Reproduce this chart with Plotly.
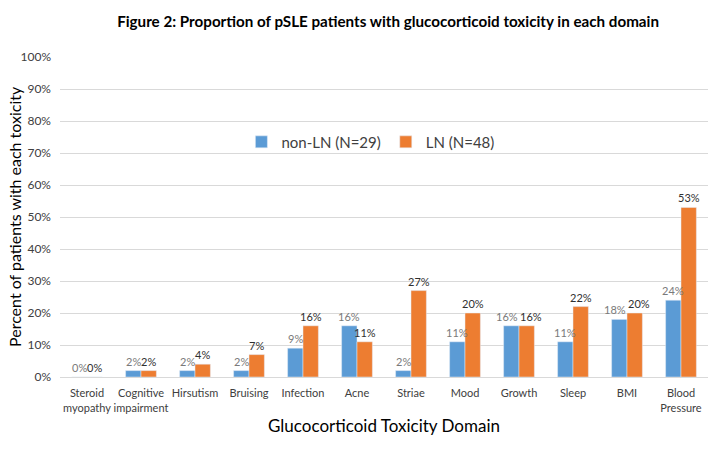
import plotly.graph_objects as go

categories = ["Steroid<br>myopathy", "Cognitive<br>impairment", "Hirsutism", "Bruising",
              "Infection", "Acne", "Striae", "Mood", "Growth", "Sleep", "BMI",
              "Blood<br>Pressure"]
non_ln = [0, 2, 2, 2, 9, 16, 2, 11, 16, 11, 18, 24]
ln = [0, 2, 4, 7, 16, 11, 27, 20, 16, 22, 20, 53]
y_ticks = [0, 10, 20, 30, 40, 50, 60, 70, 80, 90, 100]

FONT = "Lato"
BLUE_LBL = "#7a7a7a"
ORANGE_LBL = "#303030"

fig = go.Figure()
fig.add_trace(go.Bar(x=categories, y=non_ln, name="non-LN (N=29)",
                     marker_color="#5B9BD5"))
fig.add_trace(go.Bar(x=categories, y=ln, name="LN (N=48)",
                     marker_color="#ED7D31"))

# value labels (annotations anchored on the data values)
annotations = []
for cat, a, b in zip(categories, non_ln, ln):
    wide = a >= 10 or b >= 10
    close = abs(a - b) < 4.5
    off = 12 if (wide and close) else 7.75
    annotations.append(dict(x=cat, y=a, xref="x", yref="y", text=f"{a}%",
                            showarrow=False, xshift=-off, yshift=1, yanchor="bottom",
                            font=dict(family=FONT, size=11, color=BLUE_LBL)))
    annotations.append(dict(x=cat, y=b, xref="x", yref="y", text=f"{b}%",
                            showarrow=False, xshift=off, yshift=1, yanchor="bottom",
                            font=dict(family=FONT, size=11, color=ORANGE_LBL)))

# y-axis title placed as a rotated annotation
annotations.append(dict(text="Percent of patients with each toxicity", textangle=-90,
                        xref="paper", yref="paper", x=(14 - 60) / 648, y=0.5,
                        xanchor="center", yanchor="middle", showarrow=False,
                        font=dict(family=FONT, size=16, color="#000000")))

fig.update_layout(
    width=716, height=460,
    margin=dict(l=60, r=8, t=57, b=83, autoexpand=False),
    paper_bgcolor="white", plot_bgcolor="white",
    barmode="group", bargap=0.43, bargroupgap=0,
    font=dict(family=FONT, color="#404040"),
    title=dict(text="<b>Figure 2: Proportion of pSLE patients with glucocorticoid toxicity in each domain</b>",
               x=0.542, xanchor="center", y=1 - 22 / 460, yanchor="middle",
               font=dict(family=FONT, size=15.2, color="#000000")),
    legend=dict(orientation="h", x=0.479, xanchor="center", y=0.734, yanchor="middle",
                bgcolor="rgba(0,0,0,0)", font=dict(family=FONT, size=15, color="#404040"),
                itemwidth=30, traceorder="normal"),
    annotations=annotations,
)
fig.update_yaxes(
    range=[0, 100], tickvals=y_ticks, ticktext=[f"{v}%" for v in y_ticks],
    showgrid=True, gridcolor="#d9d9d9", gridwidth=1, zeroline=False,
    showline=False, ticks="", ticklabelstandoff=8, automargin=False,
    tickfont=dict(family=FONT, size=12, color="#404040"),
)
fig.update_xaxes(
    showline=True, linecolor="#d9d9d9", linewidth=1, ticks="",
    ticklabelstandoff=6, automargin=False,
    tickfont=dict(family=FONT, size=11, color="#404040"), tickangle=0,
    title=dict(text="Glucocorticoid Toxicity Domain", standoff=7,
               font=dict(family=FONT, size=17, color="#000000")),
)

fig.write_html("out.html", config={"displayModeBar": False},
               post_script="document.body.style.margin='0';document.body.style.overflow='hidden';")
